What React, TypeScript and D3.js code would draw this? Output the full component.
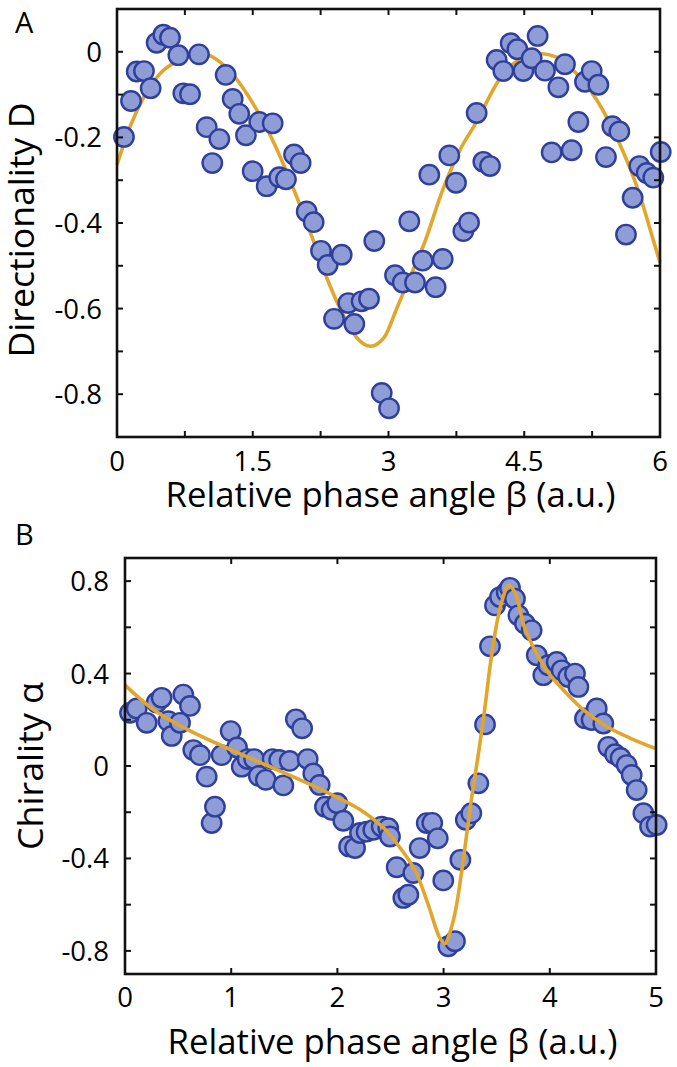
import React from 'react';
import * as d3 from 'd3';

const W = 677;
const H = 1067;

// ---------- Panel A data: Directionality D vs relative phase angle ----------
const dirBeta = [
  0.077, 0.155, 0.218, 0.298, 0.372, 0.438, 0.512, 0.586, 0.678, 0.733, 0.807, 0.906,
  0.991, 1.053, 1.131, 1.201, 1.278, 1.351, 1.425, 1.499, 1.572, 1.654, 1.72, 1.793,
  1.867, 1.956, 2.029, 2.096, 2.173, 2.254, 2.328, 2.398, 2.483, 2.556, 2.622, 2.703,
  2.785, 2.843, 2.925, 3.006, 3.072, 3.157, 3.23, 3.293, 3.378, 3.451, 3.521, 3.599,
  3.672, 3.746, 3.827, 3.89, 3.974, 4.048, 4.122, 4.195, 4.269, 4.35, 4.424, 4.49,
  4.582, 4.648, 4.729, 4.803, 4.877, 4.95, 5.024, 5.098, 5.171, 5.245, 5.319, 5.403,
  5.473, 5.551, 5.624, 5.698, 5.772, 5.853, 5.926, 6.008,
];
const dirD = [
  -0.199, -0.115, -0.046, -0.045, -0.085, 0.021, 0.04, 0.033, -0.008, -0.097, -0.099, -0.006,
  -0.176, -0.26, -0.204, -0.054, -0.11, -0.145, -0.195, -0.279, -0.164, -0.314, -0.167, -0.293,
  -0.298, -0.24, -0.26, -0.373, -0.398, -0.465, -0.498, -0.624, -0.474, -0.587, -0.636, -0.583,
  -0.577, -0.442, -0.797, -0.833, -0.522, -0.539, -0.396, -0.539, -0.488, -0.287, -0.55, -0.484,
  -0.242, -0.306, -0.419, -0.399, -0.143, -0.257, -0.267, -0.019, -0.045, 0.02, 0.006, -0.045,
  -0.015, 0.037, -0.044, -0.235, -0.083, -0.029, -0.23, -0.164, -0.07, -0.045, -0.077, -0.246,
  -0.174, -0.186, -0.427, -0.341, -0.267, -0.283, -0.294, -0.234,
];
const dirFitBeta = [
  0, 0.15, 0.3, 0.48, 0.7, 0.95, 1.2, 1.5, 1.75, 1.95, 2.15, 2.35, 2.5, 2.65, 2.8, 2.95,
  3.1, 3.25, 3.4, 3.6, 3.8, 3.95, 4.25, 4.5, 4.67, 4.85, 5.0, 5.3, 5.55, 5.75, 5.95, 6.0,
];
const dirFitD = [
  -0.264, -0.172, -0.104, -0.05, -0.019, -0.005, -0.035, -0.12, -0.22, -0.32, -0.43, -0.545,
  -0.615, -0.668, -0.688, -0.668, -0.595, -0.52, -0.445, -0.322, -0.225, -0.172, -0.057,
  -0.012, -0.004, -0.012, -0.035, -0.112, -0.213, -0.318, -0.457, -0.492,
];
const dirXTicks = [0, 0.75, 1.5, 2.25, 3, 3.75, 4.5, 5.25, 6];
const dirXLabelValues = [0, 1.5, 3, 4.5, 6];
const dirXLabels = ['0', '1.5', '3', '4.5', '6'];
const dirYTicks = [-0.8, -0.7, -0.6, -0.5, -0.4, -0.3, -0.2, -0.1, 0];
const dirYLabelValues = [-0.8, -0.6, -0.4, -0.2, 0];
const dirYLabels = ['-0.8', '-0.6', '-0.4', '-0.2', '0'];

// ---------- Panel B data: Chirality alpha vs relative phase angle ----------
const chiBeta = [
  0.047, 0.11, 0.204, 0.298, 0.345, 0.408, 0.44, 0.518, 0.549, 0.612, 0.643, 0.706,
  0.769, 0.816, 0.847, 0.91, 0.995, 1.055, 1.099, 1.155, 1.216, 1.26, 1.326, 1.39,
  1.452, 1.491, 1.55, 1.609, 1.668, 1.72, 1.773, 1.833, 1.883, 1.946, 1.999, 2.056,
  2.11, 2.166, 2.213, 2.275, 2.338, 2.417, 2.479, 2.495, 2.558, 2.621, 2.668, 2.715,
  2.775, 2.841, 2.893, 2.945, 2.997, 3.044, 3.107, 3.158, 3.209, 3.261, 3.327, 3.39,
  3.437, 3.484, 3.531, 3.594, 3.625, 3.672, 3.704, 3.766, 3.829, 3.877, 3.939, 3.986,
  4.065, 4.112, 4.174, 4.237, 4.269, 4.331, 4.394, 4.442, 4.504, 4.551, 4.614, 4.667,
  4.724, 4.771, 4.818, 4.881, 4.944, 5.006,
];
const chiAlpha = [
  0.23, 0.249, 0.187, 0.275, 0.295, 0.194, 0.13, 0.187, 0.309, 0.26, 0.069, 0.047,
  -0.046, -0.247, -0.176, 0.047, 0.151, 0.08, -0.003, 0.03, 0.03, -0.043, -0.06, 0.03,
  0.026, -0.084, 0.022, 0.202, 0.163, 0.03, -0.032, -0.082, -0.176, -0.19, -0.161, -0.237,
  -0.348, -0.355, -0.29, -0.284, -0.276, -0.262, -0.269, -0.305, -0.438, -0.571, -0.557, -0.463,
  -0.355, -0.247, -0.246, -0.313, -0.495, -0.78, -0.758, -0.406, -0.233, -0.204, -0.075, 0.18,
  0.518, 0.695, 0.731, 0.752, 0.771, 0.724, 0.652, 0.616, 0.587, 0.479, 0.393, 0.436,
  0.45, 0.414, 0.385, 0.4, 0.342, 0.206, 0.199, 0.249, 0.184, 0.083, 0.051, 0.035,
  0.004, -0.039, -0.104, -0.204, -0.262, -0.255,
];
const chiFitBeta = [
  0, 0.25, 0.6, 1.0, 1.35, 1.65, 1.95, 2.25, 2.45, 2.6, 2.75, 2.87, 2.96, 3.01, 3.06, 3.12,
  3.19, 3.26, 3.33, 3.38, 3.44, 3.5, 3.56, 3.61, 3.69, 3.75, 3.85, 3.97, 4.13, 4.32, 4.54,
  4.76, 5.0,
];
const chiFitAlpha = [
  0.35, 0.25, 0.155, 0.07, 0.0, -0.06, -0.125, -0.2, -0.275, -0.36, -0.47, -0.62, -0.74,
  -0.768, -0.72, -0.607, -0.39, -0.15, 0.06, 0.22, 0.44, 0.615, 0.73, 0.781, 0.73, 0.616,
  0.51, 0.414, 0.328, 0.242, 0.17, 0.12, 0.075,
];
const chiXTicks = [0, 1, 2, 3, 4, 5];
const chiXLabelValues = [0, 1, 2, 3, 4, 5];
const chiXLabels = ['0', '1', '2', '3', '4', '5'];
const chiYTicks = [-0.8, -0.6, -0.4, -0.2, 0, 0.2, 0.4, 0.6, 0.8];
const chiYLabelValues = [-0.8, -0.4, 0, 0.4, 0.8];
const chiYLabels = ['-0.8', '-0.4', '0', '0.4', '0.8'];

const FONT = "'Open Sans', 'Noto Sans', sans-serif";
const MARKER_FILL = '#8f9dd6';
const MARKER_STROKE = '#2f3f9c';
const FIT_COLOR = '#e1a62b';

type PanelProps = {
  letter: string;
  letterY: number;
  box: { left: number; right: number; top: number; bottom: number };
  xDomain: [number, number];
  yDomain: [number, number];
  xs: number[];
  ys: number[];
  fitX: number[];
  fitY: number[];
  xTicks: number[];
  xLabelValues: number[];
  xLabels: string[];
  yTicks: number[];
  yLabelValues: number[];
  yLabels: string[];
  yTitle: string;
  yTitleLen: number;
  yTitleX: number;
  yTitleY: number;
  xTitleY: number;
  xTickLabelDy: number;
  yTickLabelGap: number;
  curveOnTop: boolean;
};

function Panel(p: PanelProps) {
  const { box } = p;
  const x = d3.scaleLinear().domain(p.xDomain).range([box.left, box.right]);
  const y = d3.scaleLinear().domain(p.yDomain).range([box.bottom, box.top]);
  const line = d3
    .line<number>()
    .x((_, i) => x(p.fitX[i]))
    .y((d) => y(d))
    .curve(d3.curveMonotoneX);
  const tickLen = 6;
  const curve = (
    <path d={line(p.fitY) || ''} fill="none" stroke={FIT_COLOR} strokeWidth={3.6} strokeLinejoin="round" />
  );
  const markers = (
    <g>
      {p.xs.map((v, i) => (
        <circle key={i} cx={x(v)} cy={y(p.ys[i])} r={9.7} fill={MARKER_FILL} stroke={MARKER_STROKE} strokeWidth={2.4} />
      ))}
    </g>
  );
  const innerX = p.xTicks.filter((t) => t > p.xDomain[0] && t < p.xDomain[1]);
  const innerY = p.yTicks.filter((t) => t > p.yDomain[0] && t < p.yDomain[1]);
  return (
    <g>
      <text x={15} y={p.letterY} fontFamily={FONT} fontSize={29} fill="#000">{p.letter}</text>
      {!p.curveOnTop && curve}
      {markers}
      {p.curveOnTop && curve}
      <rect x={box.left} y={box.top} width={box.right - box.left} height={box.bottom - box.top}
        fill="none" stroke="#111" strokeWidth={2.6} />
      <g stroke="#111" strokeWidth={2}>
        {innerX.map((t) => (
          <g key={'x' + t}>
            <line x1={x(t)} x2={x(t)} y1={box.bottom} y2={box.bottom - tickLen} />
            <line x1={x(t)} x2={x(t)} y1={box.top} y2={box.top + tickLen} />
          </g>
        ))}
        {innerY.map((t) => (
          <g key={'y' + t}>
            <line x1={box.left} x2={box.left + tickLen} y1={y(t)} y2={y(t)} />
            <line x1={box.right} x2={box.right - tickLen} y1={y(t)} y2={y(t)} />
          </g>
        ))}
      </g>
      <g fontFamily={FONT} fontSize={27.5} fill="#000">
        {p.xLabelValues.map((t, i) => (
          <text key={'xl' + i} x={x(t)} y={box.bottom + p.xTickLabelDy} textAnchor="middle">{p.xLabels[i]}</text>
        ))}
        {p.yLabelValues.map((t, i) => (
          <text key={'yl' + i} x={box.left - p.yTickLabelGap} y={y(t) + 10} textAnchor="end">{p.yLabels[i]}</text>
        ))}
      </g>
      <text x={(box.left + box.right) / 2 + 2} y={p.xTitleY} textAnchor="middle" fontFamily={FONT} fontSize={34}
        textLength={450} lengthAdjust="spacingAndGlyphs">Relative phase angle β (a.u.)</text>
      <text transform={`translate(${p.yTitleX},${p.yTitleY}) rotate(-90)`} textAnchor="middle" fontFamily={FONT}
        fontSize={35} textLength={p.yTitleLen} lengthAdjust="spacingAndGlyphs">{p.yTitle}</text>
    </g>
  );
}

export default function App() {
  return (
    <svg width={W} height={H} viewBox={`0 0 ${W} ${H}`} style={{ position: 'absolute', left: 0, top: 0, background: '#fff' }}>
      <rect x={0} y={0} width={W} height={H} fill="#fff" />
      <Panel
        letter="A" letterY={33}
        box={{ left: 117, right: 660, top: 9, bottom: 437 }}
        xDomain={[0, 6]} yDomain={[-0.9, 0.1]}
        xs={dirBeta} ys={dirD} fitX={dirFitBeta} fitY={dirFitD}
        xTicks={dirXTicks} xLabelValues={dirXLabelValues} xLabels={dirXLabels}
        yTicks={dirYTicks} yLabelValues={dirYLabelValues} yLabels={dirYLabels}
        yTitle="Directionality D" yTitleLen={255} yTitleX={34} yTitleY={230}
        xTitleY={507} xTickLabelDy={34} yTickLabelGap={15} curveOnTop={false}
      />
      <Panel
        letter="B" letterY={545}
        box={{ left: 125, right: 656, top: 558, bottom: 974 }}
        xDomain={[0, 5]} yDomain={[-0.9, 0.9]}
        xs={chiBeta} ys={chiAlpha} fitX={chiFitBeta} fitY={chiFitAlpha}
        xTicks={chiXTicks} xLabelValues={chiXLabelValues} xLabels={chiXLabels}
        yTicks={chiYTicks} yLabelValues={chiYLabelValues} yLabels={chiYLabels}
        yTitle="Chirality α" yTitleLen={168} yTitleX={43} yTitleY={766}
        xTitleY={1054} xTickLabelDy={33} yTickLabelGap={16} curveOnTop={true}
      />
    </svg>
  );
}
